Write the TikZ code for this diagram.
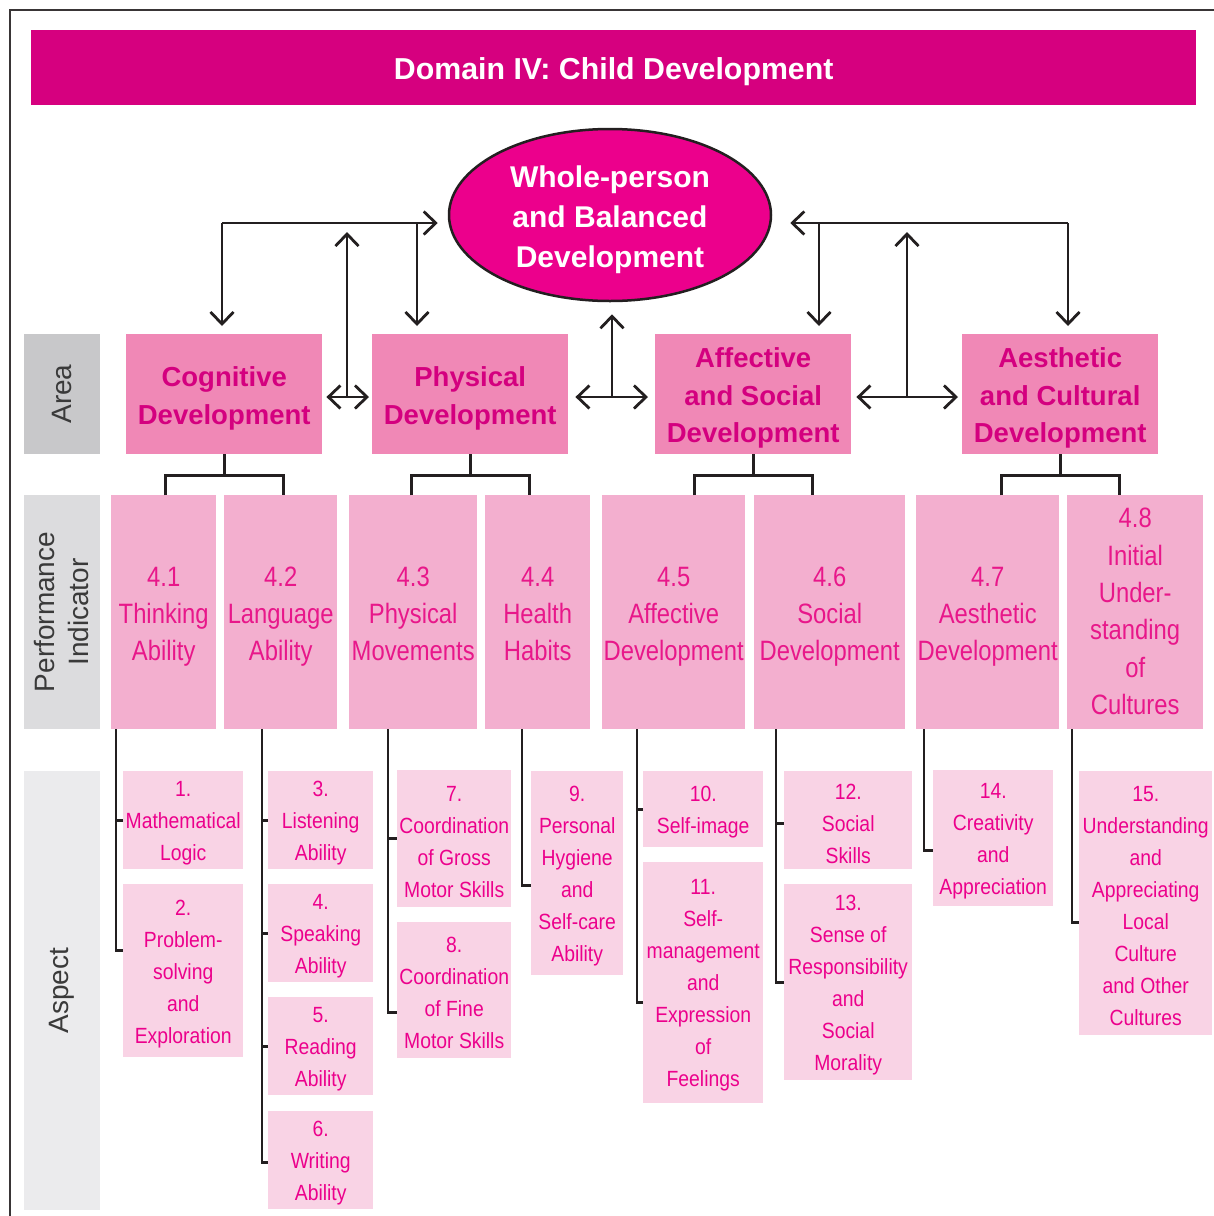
\documentclass[tikz,border=0pt]{standalone}
\usepackage{fontspec}
\setmainfont{Liberation Sans}
\newfontfamily\cnd[FakeStretch=0.85]{Liberation Sans}
\newfontfamily\cnda[FakeStretch=0.88]{Liberation Sans}
\usetikzlibrary{arrows.meta,calc,shapes.geometric}
\definecolor{titlefill}{HTML}{D6007F}
\definecolor{ellfill}{HTML}{EC008C}
\definecolor{areafill}{HTML}{F088B6}
\definecolor{areatext}{HTML}{D4007F}
\definecolor{pifill}{HTML}{F3AFCF}
\definecolor{pitext}{HTML}{E8178A}
\definecolor{aspfill}{HTML}{F9D3E5}
\definecolor{asptext}{HTML}{EC008C}
\definecolor{labA}{HTML}{C8C8CA}
\definecolor{labB}{HTML}{DCDCDE}
\definecolor{labC}{HTML}{EBEBED}
\definecolor{labtext}{HTML}{3A3A3A}
\definecolor{lc}{HTML}{231F20}
\begin{document}
\begin{tikzpicture}[x=1pt,y=-1pt,
  box/.style={rectangle, anchor=north west, inner sep=0pt},
  areabox/.style={box, fill=areafill, minimum width=196pt, minimum height=120pt},
  areatxt/.style={text=areatext, align=center, inner sep=0pt, yshift=-4pt, font=\bfseries\fontsize{27.5}{38}\selectfont},
  areatxtb/.style={areatxt, font=\bfseries\fontsize{27.5}{37.5}\selectfont},
  pibox/.style={box, fill=pifill, minimum height=234pt},
  pitxt/.style={text=pitext, align=center, inner sep=0pt, yshift=-3.6pt, font=\cnd\fontsize{28}{37}\selectfont},
  pitxtb/.style={pitxt, yshift=2pt, font=\cnd\fontsize{28}{37.4}\selectfont},
  aspbox/.style={box, fill=aspfill},
  asptxt/.style={text=asptext, align=center, inner sep=0pt, yshift=-3pt, font=\cnda\fontsize{22}{32}\selectfont},
  lab/.style={rectangle, rotate=90, inner sep=0pt, align=center, text=labtext, minimum height=76pt, font=\fontsize{28}{34}\selectfont},
  arr/.style={draw=lc, line width=2.8pt, -{Straight Barb[length=12pt,width=23pt]}},
  darr/.style={draw=lc, line width=2.8pt, {Straight Barb[length=12pt,width=23pt]}-{Straight Barb[length=12pt,width=23pt]}},
  tree/.style={draw=lc, line width=2.8pt}]
\useasboundingbox (0,0) rectangle (1214,1216);
\fill[white] (0,0) rectangle (1214,1216);
\draw[draw=lc!90, line width=2.5pt] (1214,10) -- (10,10) -- (10,1216);

% title
\node[box, fill=titlefill, minimum width=1165pt, minimum height=75pt,
  label={[text=white, inner sep=0pt, yshift=-4pt, font=\bfseries\fontsize{30.3}{36}\selectfont]center:Domain IV: Child Development}] (title) at (31,30) {};

% ellipse
\node[ellipse, draw=lc, line width=2.5pt, fill=ellfill, minimum width=322pt, minimum height=172pt, inner sep=0pt,
  label={[text=white, align=center, inner sep=0pt, yshift=-5pt, font=\bfseries\fontsize{30}{40}\selectfont]center:Whole-person\\and Balanced\\Development}] (E) at (610,215) {};

% left labels
\node[lab, fill=labA, minimum width=120pt] (labArea) at (62,394) {Area};
\node[lab, fill=labB, minimum width=234pt] (labPI) at (62,612) {Performance\\Indicator};
\node[lab, fill=labC, minimum width=439pt] (labAsp) at (62,990.5) {Aspect};

% areas
\node[areabox, label={[areatxt]center:Cognitive\\Development}] (cog) at (126,334) {};
\node[areabox, label={[areatxt]center:Physical\\Development}] (phy) at (372,334) {};
\node[areabox, label={[areatxtb]center:Affective\\and Social\\Development}] (aff) at (655,334) {};
\node[areabox, label={[areatxtb]center:Aesthetic\\and Cultural\\Development}] (aes) at (962,334) {};

% performance indicators
\node[pibox, minimum width=105pt, label={[pitxt]center:4.1\strut\\Thinking\\Ability\strut}] (p1) at (111,495) {};
\node[pibox, minimum width=113pt, label={[pitxt]center:4.2\strut\\Language\\Ability\strut}] (p2) at (224,495) {};
\node[pibox, minimum width=128pt, label={[pitxt]center:4.3\strut\\Physical\\Movements\strut}] (p3) at (349,495) {};
\node[pibox, minimum width=105pt, label={[pitxt]center:4.4\strut\\Health\\Habits\strut}] (p4) at (485,495) {};
\node[pibox, minimum width=143pt, label={[pitxt]center:4.5\strut\\Affective\\Development\strut}] (p5) at (602,495) {};
\node[pibox, minimum width=151pt, label={[pitxt]center:4.6\strut\\Social\\Development\strut}] (p6) at (754,495) {};
\node[pibox, minimum width=143pt, label={[pitxt]center:4.7\strut\\Aesthetic\\Development\strut}] (p7) at (916,495) {};
\node[pibox, minimum width=136pt, label={[pitxtb]center:4.8\strut\\Initial\\Under-\\standing\\of\\Cultures\strut}] (p8) at (1067,495) {};

% aspects
\node[aspbox, minimum width=120pt, minimum height=98pt, label={[asptxt]center:1.\\Mathematical\\Logic}] (a1) at (123,771) {};
\node[aspbox, minimum width=120pt, minimum height=173pt, label={[asptxt]center:2.\\Problem-\\solving\\and\\Exploration}] (a2) at (123,884) {};
\node[aspbox, minimum width=105pt, minimum height=98pt, label={[asptxt]center:3.\\Listening\\Ability}] (a3) at (268,771) {};
\node[aspbox, minimum width=105pt, minimum height=98pt, label={[asptxt]center:4.\\Speaking\\Ability}] (a4) at (268,884) {};
\node[aspbox, minimum width=105pt, minimum height=98pt, label={[asptxt]center:5.\\Reading\\Ability}] (a5) at (268,997) {};
\node[aspbox, minimum width=105pt, minimum height=98pt, label={[asptxt]center:6.\\Writing\\Ability}] (a6) at (268,1111) {};
\node[aspbox, minimum width=114pt, minimum height=137pt, label={[asptxt]center:7.\\Coordination\\of Gross\\Motor Skills}] (a7) at (397,770) {};
\node[aspbox, minimum width=114pt, minimum height=136pt, label={[asptxt]center:8.\\Coordination\\of Fine\\Motor Skills}] (a8) at (397,922) {};
\node[aspbox, minimum width=92pt, minimum height=204pt, label={[asptxt]center:9.\\Personal\\Hygiene\\and\\Self-care\\Ability}] (a9) at (531,771) {};
\node[aspbox, minimum width=120pt, minimum height=76pt, label={[asptxt]center:10.\\Self-image}] (a10) at (643,771) {};
\node[aspbox, minimum width=120pt, minimum height=241pt, label={[asptxt]center:11.\\Self-\\management\\and\\Expression\\of\\Feelings}] (a11) at (643,862) {};
\node[aspbox, minimum width=128pt, minimum height=98pt, label={[asptxt,yshift=-1pt]center:12.\\Social\\Skills}] (a12) at (784,771) {};
\node[aspbox, minimum width=128pt, minimum height=196pt, label={[asptxt]center:13.\\Sense of\\Responsibility\\and\\Social\\Morality}] (a13) at (784,884) {};
\node[aspbox, minimum width=120pt, minimum height=136pt, label={[asptxt]center:14.\\Creativity\\and\\Appreciation}] (a14) at (933,770) {};
\node[aspbox, minimum width=133pt, minimum height=264pt, label={[asptxt]center:15.\\Understanding\\and\\Appreciating\\Local\\Culture\\and Other\\Cultures}] (a15) at (1079,771) {};

% area -> indicator trees
\foreach \a in {cog,phy,aff,aes}{
  \draw[tree] (\a.south) -- ++(0,21);
  \draw[tree] ($(\a.south)+(-59,41)$) -- ++(0,-20) -- ++(118,0) -- ++(0,20);
}

% spines
\coordinate (s1) at (116,729);
\coordinate (s2) at (262,729);
\coordinate (s3) at (388,729);
\coordinate (s4) at (522,729);
\coordinate (s5) at (637,729);
\coordinate (s6) at (776,729);
\coordinate (s7) at (924,729);
\coordinate (s8) at (1072,729);
\draw[tree] (s1) |- ([yshift=20pt]a2.west);
\draw[tree] (s1 |- a1.west) -- (a1.west);
\draw[tree] (s2) |- ([yshift=-2pt]a6.west);
\draw[tree] (s2 |- a3.west) -- (a3.west);
\draw[tree] (s2 |- a4.west) -- (a4.west);
\draw[tree] (s2 |- a5.west) -- (a5.west);
\draw[tree] (s3) |- ([yshift=-22pt]a8.west);
\draw[tree] (s3 |- a7.west) -- (a7.west);
\draw[tree] (s4) |- ([yshift=-12pt]a9.west);
\draw[tree] (s5) |- ([yshift=-20pt]a11.west);
\draw[tree] (s5 |- a10.west) -- (a10.west);
\draw[tree] (s6) |- (a13.west);
\coordinate (a12t) at ([yshift=-3pt]a12.west);
\draw[tree] (s6 |- a12t) -- (a12t);
\draw[tree] (s7) |- ([yshift=-12pt]a14.west);
\draw[tree] (s8) |- ([yshift=-19pt]a15.west);

% top arrows
\coordinate (L) at (222,223);
\coordinate (Lm) at (417,223);
\coordinate (Rm) at (819,223);
\coordinate (R) at (1068,223);
\coordinate (tipy) at (0,326);
\coordinate (upy) at (0,232);
\coordinate (Etl) at ([xshift=-10pt]E.west);
\coordinate (Etr) at ([xshift=18pt]E.east);
\coordinate (Es) at ([yshift=-12pt]E.south);
\draw[arr] (L) -- (Etl |- L);
\draw[arr] (L) -- (L |- tipy);
\draw[arr] (Lm) -- (Lm |- tipy);
\draw[arr] (R) -- (Etr |- R);
\draw[arr] (Rm) -- (Rm |- tipy);
\draw[arr] (R) -- (R |- tipy);

% middle double arrows
\coordinate (m1) at (347,397);
\coordinate (m2) at (612,397);
\coordinate (m3) at (907,397);
\coordinate (ce) at ([xshift=4pt]cog.east);
\coordinate (pw) at ([xshift=-3pt]phy.west);
\coordinate (pe) at ([xshift=7pt]phy.east);
\coordinate (aw) at ([xshift=-7pt]aff.west);
\coordinate (ae) at ([xshift=5pt]aff.east);
\coordinate (sw) at ([xshift=-4pt]aes.west);
\draw[darr] (ce |- m1) -- (pw |- m1);
\draw[arr] (m1) -- (m1 |- upy);
\draw[darr] (pe |- m2) -- (aw |- m2);
\draw[arr] (m2) -- (m2 |- Es);
\draw[darr] (ae |- m3) -- (sw |- m3);
\draw[arr] (m3) -- (m3 |- upy);
\end{tikzpicture}
\end{document}
